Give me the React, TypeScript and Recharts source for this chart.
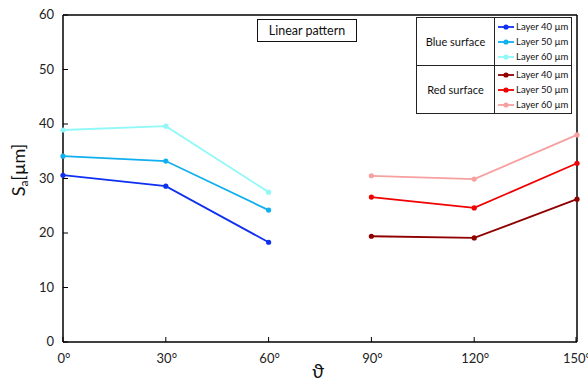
import { LineChart, Line, XAxis, YAxis, ReferenceLine } from 'recharts'

const angles = [0, 30, 60, 90, 120, 150]
const blue40 = [30.6, 28.6, 18.3, null, null, null]
const blue50 = [34.1, 33.2, 24.2, null, null, null]
const blue60 = [38.9, 39.6, 27.5, null, null, null]
const red40 = [null, null, null, 19.4, 19.1, 26.2]
const red50 = [null, null, null, 26.6, 24.6, 32.8]
const red60 = [null, null, null, 30.5, 29.9, 38.0]
const yTicks = [0, 10, 20, 30, 40, 50, 60]

const FONT = 'Lato, "Open Sans", sans-serif'

const data = angles.map((a, i) => ({
  angle: a,
  b40: blue40[i],
  b50: blue50[i],
  b60: blue60[i],
  r40: red40[i],
  r50: red50[i],
  r60: red60[i],
}))

const series = [
  { key: 'b40', color: '#1030f0' },
  { key: 'b50', color: '#10b0f0' },
  { key: 'b60', color: '#90f8f8' },
  { key: 'r40', color: '#900000' },
  { key: 'r50', color: '#f00000' },
  { key: 'r60', color: '#f8a0a0' },
]

function YTick({ x, y, payload }: any) {
  return (
    <g>
      <line x1={x} y1={y} x2={x + 5} y2={y} stroke="#000" strokeWidth={1} />
      <text x={x - 9} y={y + 4} textAnchor="end" fontSize={13} fill="#222" fontFamily={FONT}>
        {payload.value}
      </text>
    </g>
  )
}

function XTick({ x, y, payload }: any) {
  return (
    <g>
      <line x1={x} y1={y} x2={x} y2={y - 5} stroke="#000" strokeWidth={1} />
      <text x={x + 1} y={y + 21} textAnchor="middle" fontSize={13} fill="#222" fontFamily={FONT}>
        {payload.value + '°'}
      </text>
    </g>
  )
}

const legendRows = [
  { group: 'Blue surface', items: [['Layer 40 µm', '#1030f0'], ['Layer 50 µm', '#10b0f0'], ['Layer 60 µm', '#90f8f8']] },
  { group: 'Red surface', items: [['Layer 40 µm', '#900000'], ['Layer 50 µm', '#f00000'], ['Layer 60 µm', '#f8a0a0']] },
]

function LegendTable() {
  return (
    <div
      style={{
        position: 'absolute',
        left: 416,
        top: 17,
        width: 156,
        border: '1.5px solid #222',
        background: '#fff',
        fontFamily: FONT,
        boxSizing: 'border-box',
      }}
    >
      {legendRows.map((row, ri) => (
        <div key={ri} style={{ display: 'flex', borderTop: ri ? '1px solid #222' : 'none' }}>
          <div
            style={{
              width: 77,
              borderRight: '1px solid #222',
              display: 'flex',
              alignItems: 'center',
              justifyContent: 'center',
              fontSize: 11,
              color: '#111',
            }}
          >
            {row.group}
          </div>
          <div style={{ flex: 1, padding: '1px 0' }}>
            {row.items.map(([label, color], i) => (
              <div key={i} style={{ display: 'flex', alignItems: 'center', height: 15, fontSize: 9.5, color: '#111' }}>
                <svg width={18} height={8} style={{ marginLeft: 2, marginRight: 1 }}>
                  <line x1={1} y1={4} x2={17} y2={4} stroke={color} strokeWidth={1.8} />
                  <circle cx={9} cy={4} r={2.6} fill={color} />
                </svg>
                {label}
              </div>
            ))}
          </div>
        </div>
      ))}
    </div>
  )
}

export default function App() {
  return (
    <div style={{ position: 'fixed', left: 0, top: 0, width: 588, height: 382, background: '#fff' }}>
      <LineChart width={588} height={382} data={data} margin={{ top: 15, right: 11, bottom: 0, left: 0 }}>
        <XAxis
          dataKey="angle"
          type="number"
          domain={[0, 150]}
          ticks={angles}
          tick={<XTick />}
          tickLine={false}
          tickSize={0}
          tickMargin={0}
          height={40}
          axisLine={{ stroke: '#000', strokeWidth: 1.5 }}
        />
        <YAxis
          type="number"
          domain={[0, 60]}
          ticks={yTicks}
          tick={<YTick />}
          tickLine={false}
          tickSize={0}
          tickMargin={0}
          width={63}
          axisLine={{ stroke: '#000', strokeWidth: 1.5 }}
        />
        <ReferenceLine y={60} stroke="#000" strokeWidth={1.5} />
        <ReferenceLine x={150} stroke="#000" strokeWidth={1.5} />
        {series.map((s) => (
          <Line
            key={s.key}
            dataKey={s.key}
            type="linear"
            stroke={s.color}
            strokeWidth={1.8}
            dot={{ r: 2.6, fill: s.color, stroke: s.color, strokeWidth: 0 }}
            activeDot={false}
            isAnimationActive={false}
          />
        ))}
        <text x={318} y={378} textAnchor="middle" fontSize={19} fontFamily={FONT} fill="#111">
          ϑ
        </text>
        <text
          transform="translate(25,170) rotate(-90)"
          textAnchor="middle"
          fontSize={18}
          fontFamily={FONT}
          fill="#111"
        >
          S<tspan fontSize={12} dy={3}>a</tspan>
          <tspan dy={-3}>[µm]</tspan>
        </text>
      </LineChart>
      <div
        style={{
          position: 'absolute',
          left: 257,
          top: 19,
          width: 100,
          height: 23,
          border: '1.2px solid #111',
          boxSizing: 'border-box',
          fontFamily: FONT,
          fontSize: 12.5,
          color: '#111',
          display: 'flex',
          alignItems: 'center',
          justifyContent: 'center',
          background: '#fff',
        }}
      >
        Linear pattern
      </div>
      <LegendTable />
    </div>
  )
}
